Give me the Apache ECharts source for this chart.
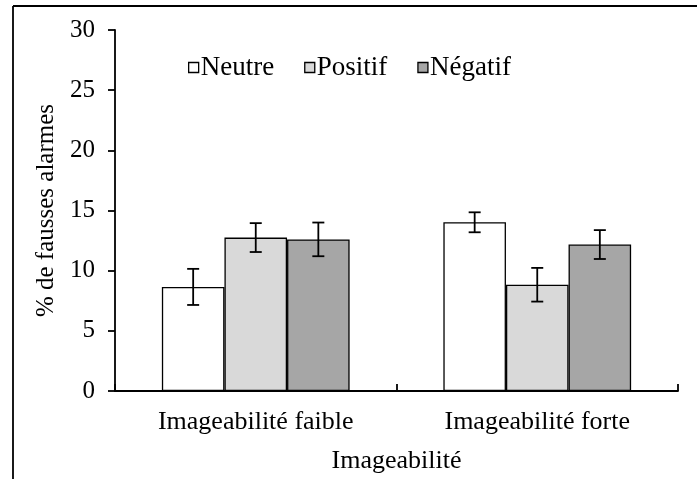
<!DOCTYPE html>
<html><head><meta charset="utf-8">
<script src="https://cdn.jsdelivr.net/npm/echarts@6/dist/echarts.min.js"></script>
<style>html,body{margin:0;padding:0;background:#fff}#c{width:697px;height:479px}</style>
</head><body><div id="c"></div>
<script>
var categories = ['Imageabilité faible', 'Imageabilité forte'];
var seriesNames = ['Neutre', 'Positif', 'Négatif'];
var neutre = [8.65, 14.02];
var positif = [12.75, 8.83];
var negatif = [12.6, 12.17];
var errNeutre = [1.5, 0.83];
var errPositif = [1.2, 1.4];
var errNegatif = [1.4, 1.2];
var yTicks = [0, 5, 10, 15, 20, 25, 30];

var values = [neutre, positif, negatif];
var errs = [errNeutre, errPositif, errNegatif];
var colors = ['#ffffff', '#d9d9d9', '#a6a6a6'];
var gapFrac = 0.333;
var FONT = '"Liberation Serif", "Times New Roman", serif';

var chart = echarts.init(document.getElementById('c'), null, {renderer: 'canvas'});
var series = [];
seriesNames.forEach(function (n, i) {
  series.push({
    name: n, type: 'bar', data: values[i],
    barGap: '0%', barCategoryGap: (gapFrac * 100) + '%',
    itemStyle: {color: colors[i], borderColor: '#000', borderWidth: 1.3},
    emphasis: {disabled: true}
  });
});
var errData = [];
for (var s = 0; s < 3; s++) {
  for (var c = 0; c < categories.length; c++) {
    errData.push([c, values[s][c], errs[s][c], s]);
  }
}
series.push({
  type: 'custom', data: errData, z: 10, silent: true,
  renderItem: function (params, api) {
    var ci = api.value(0), v = api.value(1), e = api.value(2), si = api.value(3);
    var band = api.size([1, 0])[0];
    var bw = band * (1 - gapFrac) / 3;
    var center = api.coord([ci, v]);
    var x = center[0] + (si - 1) * bw;
    var top = api.coord([ci, v + e])[1];
    var bot = api.coord([ci, v - e])[1];
    var st = {stroke: '#000', lineWidth: 1.8};
    var hw = 6;
    return {type: 'group', children: [
      {type: 'line', shape: {x1: x, y1: top, x2: x, y2: bot}, style: st},
      {type: 'line', shape: {x1: x - hw, y1: top, x2: x + hw, y2: top}, style: st},
      {type: 'line', shape: {x1: x - hw, y1: bot, x2: x + hw, y2: bot}, style: st}
    ]};
  }
});

chart.setOption({
  animation: false,
  backgroundColor: '#fff',
  textStyle: {fontFamily: FONT},
  grid: {left: 115, right: 19, top: 30, bottom: 86},
  legend: {
    data: seriesNames, top: 54, left: 188, padding: 0,
    itemWidth: 10, itemHeight: 10, itemGap: 30,
    icon: 'rect',
    textStyle: {fontFamily: FONT, fontSize: 27, color: '#000', padding: [0, 0, 0, -3]},
    itemStyle: {borderColor: '#000', borderWidth: 1.3}
  },
  xAxis: {
    type: 'category', data: categories,
    name: 'Imageabilité', nameLocation: 'middle', nameGap: 57,
    nameTextStyle: {fontFamily: FONT, fontSize: 26, color: '#000'},
    axisLine: {lineStyle: {color: '#000', width: 1.8}},
    axisTick: {show: true, inside: true, length: 7, lineStyle: {color: '#000', width: 1.8}},
    axisLabel: {fontFamily: FONT, fontSize: 26, color: '#000', margin: 18}
  },
  yAxis: {
    type: 'value', min: 0, max: 30, interval: 5,
    name: '% de fausses alarmes', nameLocation: 'middle', nameGap: 54, nameRotate: 90,
    nameTextStyle: {fontFamily: FONT, fontSize: 25, color: '#000'},
    axisLine: {show: true, lineStyle: {color: '#000', width: 1.8}},
    axisTick: {show: true, inside: false, length: 7, lineStyle: {color: '#000', width: 1.8}},
    splitLine: {show: false},
    axisLabel: {fontFamily: FONT, fontSize: 25, color: '#000', margin: 20,
      formatter: function (v) { return yTicks.indexOf(v) >= 0 ? String(v) : ''; }}
  },
  graphic: [
    {type: 'line', shape: {x1: 13, y1: 6, x2: 697, y2: 6}, style: {stroke: '#000', lineWidth: 1.8}},
    {type: 'line', shape: {x1: 13, y1: 6, x2: 13, y2: 479}, style: {stroke: '#000', lineWidth: 1.8}}
  ],
  series: series
});
</script></body></html>
